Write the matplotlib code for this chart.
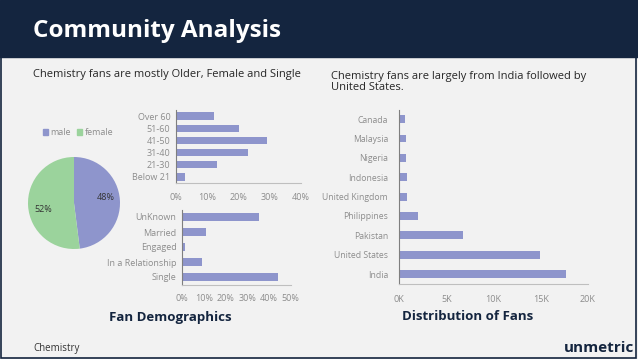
import matplotlib.pyplot as plt
from matplotlib.patches import Rectangle
from matplotlib.ticker import FuncFormatter

plt.rcParams['font.family'] = ['Open Sans', 'DejaVu Sans']

# data
gender_labels = ['male', 'female']
gender_share = [48, 52]

age_groups = ['Below 21', '21-30', '31-40', '41-50', '51-60', 'Over 60']
age_share = [0.029, 0.13, 0.23, 0.291, 0.202, 0.122]

status_labels = ['Single', 'In a Relationship', 'Engaged', 'Married', 'UnKnown']
status_share = [0.442, 0.092, 0.012, 0.109, 0.355]

countries = ['India', 'United States', 'Pakistan', 'Philippines', 'United Kingdom',
             'Indonesia', 'Nigeria', 'Malaysia', 'Canada']
fans = [17650, 14900, 6750, 2000, 850, 850, 750, 740, 650]

W, H = 638, 359
purple = '#8e95cc'
green = '#9bd39c'
navy = '#14253f'
bg = '#f2f2f2'
tick_col = '#8c8c8c'


def box(x0, y0, x1, y1):
    # pixel coords (top-left origin) -> figure fraction
    return [x0 / W, 1 - y1 / H, (x1 - x0) / W, (y1 - y0) / H]


fig = plt.figure(figsize=(W / 100, H / 100), dpi=100, facecolor=bg)

# header band and frame
fig.patches.append(Rectangle((0, 1 - 57 / H), 1, 57 / H, transform=fig.transFigure,
                             color=navy, zorder=0))
fig.patches.append(Rectangle((1 / W, 1 / H), 1 - 3 / W, 1 - 2 / H, transform=fig.transFigure,
                             fill=False, edgecolor=navy, lw=1.2, zorder=5))
fig.text(33 / W, 1 - 31 / H, 'Community Analysis', color='white', fontsize=17.5,
         fontweight='bold', va='center', ha='left')

fig.text(33 / W, 1 - 75 / H, 'Chemistry fans are mostly Older, Female and Single',
         fontsize=8, color='#262626', va='center')
fig.text(331 / W, 1 - 82 / H, 'Chemistry fans are largely from India followed by\nUnited States.',
         fontsize=8, color='#262626', va='center', linespacing=1.0)

fig.text(170 / W, 1 - 317 / H, 'Fan Demographics', fontsize=9.5, fontweight='bold',
         color=navy, ha='center', va='center')
fig.text(468 / W, 1 - 317 / H, 'Distribution of Fans', fontsize=9.5, fontweight='bold',
         color=navy, ha='center', va='center')
fig.text(33 / W, 1 - 348 / H, 'Chemistry', fontsize=7, color='#333333', va='center')
fig.text(634 / W, 1 - 348 / H, 'unmetric', fontsize=11, fontweight='bold', color=navy,
         ha='right', va='center')


def style_bar_axes(ax, size):
    ax.set_facecolor('none')
    for s in ['top', 'right']:
        ax.spines[s].set_visible(False)
    ax.spines['left'].set_color('#7f7f7f')
    ax.spines['bottom'].set_color('#bfbfbf')
    ax.spines['left'].set_linewidth(0.8)
    ax.spines['bottom'].set_linewidth(0.8)
    ax.tick_params(length=0, labelsize=size, colors=tick_col, pad=4)


# pie
ax_pie = fig.add_axes(box(28, 157, 120, 249))
ax_pie.pie(gender_share, colors=[purple, green], startangle=90, counterclock=False,
           radius=1, labels=None)
ax_pie.set_xlim(-1, 1)
ax_pie.set_ylim(-1, 1)
ax_pie.set_aspect('equal')
ax_pie.text(0.70, 0.13, f'{gender_share[0]}%', fontsize=6.5, color='#333333', ha='center', va='center')
ax_pie.text(-0.67, -0.15, f'{gender_share[1]}%', fontsize=6.5, color='#333333', ha='center', va='center')
handles = [Rectangle((0, 0), 1, 1, color=purple), Rectangle((0, 0), 1, 1, color=green)]
fig.legend(handles, gender_labels, loc='center', bbox_to_anchor=(78 / W, 1 - 133 / H),
           ncol=2, frameon=False, fontsize=6.5, handlelength=0.6, handleheight=0.6,
           handletextpad=0.3, columnspacing=0.6, labelcolor=tick_col)

# age groups
ax_age = fig.add_axes(box(176, 110, 301, 183))
ax_age.barh(range(len(age_groups)), age_share, height=0.6, color=purple)
ax_age.set_yticks(range(len(age_groups)), age_groups)
ax_age.set_xlim(0, 0.4)
ax_age.set_ylim(-0.5, len(age_groups) - 0.5)
ax_age.set_xticks([0, 0.1, 0.2, 0.3, 0.4])
ax_age.xaxis.set_major_formatter(FuncFormatter(lambda v, p: f'{v * 100:.0f}%'))
style_bar_axes(ax_age, 6.5)
ax_age.tick_params(axis='x', pad=7)

# relationship status
ax_rel = fig.add_axes(box(182, 209.5, 290.7, 284.5))
ax_rel.barh(range(len(status_labels)), status_share, height=0.55, color=purple)
ax_rel.set_yticks(range(len(status_labels)), status_labels)
ax_rel.set_xlim(0, 0.5)
ax_rel.set_ylim(-0.5, len(status_labels) - 0.5)
ax_rel.set_xticks([0, 0.1, 0.2, 0.3, 0.4, 0.5])
ax_rel.xaxis.set_major_formatter(FuncFormatter(lambda v, p: f'{v * 100:.0f}%'))
style_bar_axes(ax_rel, 6.5)
ax_rel.tick_params(axis='x', pad=7)

# countries
ax_c = fig.add_axes(box(399, 109.6, 588, 283.7))
ax_c.barh(range(len(countries)), fans, height=0.4, color=purple)
ax_c.set_yticks(range(len(countries)), countries)
ax_c.set_xlim(0, 20000)
ax_c.set_ylim(-0.5, len(countries) - 0.5)
ax_c.set_xticks([0, 5000, 10000, 15000, 20000])
ax_c.xaxis.set_major_formatter(FuncFormatter(lambda v, p: f'{v / 1000:.0f}K'))
style_bar_axes(ax_c, 6.2)
ax_c.tick_params(axis='y', pad=8)
ax_c.tick_params(axis='x', labelsize=6.5, pad=8)

fig.savefig('out.png', dpi=100, facecolor=bg)
